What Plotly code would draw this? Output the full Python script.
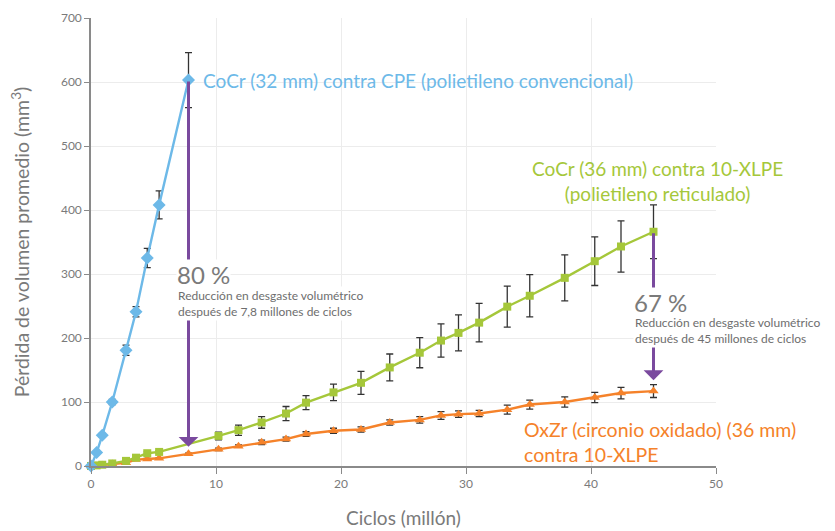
import plotly.graph_objects as go

# ---- data ----
cpe_x = [0, 0.45, 0.9, 1.7, 2.8, 3.6, 4.5, 5.45, 7.8]
cpe_y = [0, 21, 48, 100, 181, 241, 325, 408, 603]
cpe_err = [0, 2, 3, 4, 8, 8, 15, 22, 43]

xlpe_x = [0, 0.45, 0.9, 1.7, 2.8, 3.6, 4.5, 5.45, 10.2, 11.8, 13.65, 15.6, 17.2,
          19.4, 21.6, 23.9, 26.3, 28.0, 29.4, 31.05, 33.3, 35.1, 37.9, 40.3, 42.4, 45.0]
xlpe_y = [0, 1, 2, 4, 8, 13, 20, 22, 47, 56, 68, 82, 99,
          115, 130, 154, 177, 196, 208, 224, 249, 266, 294, 320, 343, 366]
xlpe_err = [0, 0, 1, 1, 1, 2, 2, 2, 6, 8, 9, 11, 11,
            13, 18, 21, 23.5, 26, 28, 30, 32, 33, 36, 38, 40, 42]

oxzr_x = [0, 0.9, 1.7, 2.8, 3.6, 4.5, 5.45, 7.8, 10.2, 11.8, 13.65, 15.6, 17.2,
          19.4, 21.6, 23.9, 26.3, 28.0, 29.4, 31.05, 33.3, 35.1, 37.9, 40.3, 42.4, 45.0]
oxzr_y = [0, 1, 3, 5, 10, 11, 12, 19, 26, 31, 37, 42, 50,
          55, 57, 68, 72, 79, 81, 82, 88, 96, 100, 107, 114, 117]
oxzr_err = [0, 0, 0, 1, 1, 1, 1, 1, 2, 2, 3.5, 3, 3.5,
            4, 4, 4, 5, 6, 5, 5, 7, 7, 8, 8, 9, 10]

# reduction arrows: x position, start value, tip value
arrow_x = [7.8, 45.0]
arrow_from = [603, 366]
arrow_to = [30, 134]

x_ticks = [0, 10, 20, 30, 40, 50]
y_ticks = [0, 100, 200, 300, 400, 500, 600, 700]

BLUE = "#6DB9E8"
GREEN = "#A5C73A"
ORANGE = "#F5822A"
PURPLE = "#7A4A9E"
GRAY = "#7A7A7A"
FONT = "Lato"

fig = go.Figure()

def add_series(x, y, err, color, symbol, size):
    fig.add_trace(go.Scatter(
        x=x, y=y, mode="lines+markers",
        line=dict(color=color, width=2.4),
        marker=dict(symbol=symbol, size=size, color=color),
        error_y=dict(type="data", array=err, visible=True,
                     color="#333333", thickness=1.3, width=3.5),
        cliponaxis=False, showlegend=False, hoverinfo="skip"))

add_series(oxzr_x, oxzr_y, oxzr_err, ORANGE, "triangle-up", 9)
add_series(xlpe_x, xlpe_y, xlpe_err, GREEN, "square", 8)
add_series(cpe_x, cpe_y, cpe_err, BLUE, "diamond", 10)

anns = []
# arrows
for ax_, y0, y1 in zip(arrow_x, arrow_from, arrow_to):
    anns.append(dict(x=ax_, y=y1, ax=ax_, ay=y0, axref="x", ayref="y",
                     xref="x", yref="y", text="", showarrow=True,
                     arrowhead=1, arrowwidth=3, arrowsize=1.1,
                     arrowcolor=PURPLE, standoff=0, startstandoff=0))

# series labels
anns.append(dict(x=cpe_x[-1], y=cpe_y[-1], xref="x", yref="y", xanchor="left",
                 yanchor="middle", xshift=12, showarrow=False,
                 text="CoCr (32 mm) contra CPE (polietileno convencional)",
                 font=dict(family=FONT, size=19, color=BLUE)))
anns.append(dict(x=45.3, y=445, xref="x", yref="y", xanchor="center",
                 yanchor="middle", showarrow=False, align="center",
                 text="CoCr (36 mm) contra 10-XLPE<br>(polietileno reticulado)",
                 font=dict(family=FONT, size=19, color=GREEN)))
anns.append(dict(x=34.5, y=37, xref="x", yref="y", xanchor="left",
                 yanchor="middle", showarrow=False, align="left",
                 text="OxZr (circonio oxidado) (36 mm)<br>contra 10-XLPE",
                 font=dict(family=FONT, size=19.5, color=ORANGE)))

# reduction labels (small text first, big percentage drawn on top)
reductions = [
    (6.8, 299, 254, "80 %", "Reducción en desgaste volumétrico<br>después de 7,8 millones de ciclos"),
    (43.36, 255, 211, "67 %", "Reducción en desgaste volumétrico<br>después de 45 millones de ciclos"),
]
for xl, ybig, ysmall, pct, txt in reductions:
    anns.append(dict(x=xl, y=ysmall, xref="x", yref="y", xanchor="left",
                     yanchor="middle", showarrow=False, text=txt, align="left",
                     bgcolor="white", borderpad=1,
                     font=dict(family=FONT, size=12, color="#6E6E6E")))
for xl, ybig, ysmall, pct, txt in reductions:
    anns.append(dict(x=xl, y=ybig, xref="x", yref="y", xanchor="left",
                     yanchor="middle", showarrow=False, text=pct,
                     bgcolor="white", borderpad=0,
                     font=dict(family=FONT, size=24, color=GRAY)))

fig.update_layout(
    width=835, height=531,
    margin=dict(l=91, r=119, t=18, b=65, autoexpand=False),
    paper_bgcolor="white", plot_bgcolor="white",
    font=dict(family=FONT, color=GRAY),
    annotations=anns,
    xaxis=dict(range=[0, 50], tickvals=x_ticks, ticktext=[str(v) for v in x_ticks],
               showgrid=True, gridcolor="#ECECEC", gridwidth=1,
               showline=True, linecolor="#8A8A8A", linewidth=1.5,
               ticks="outside", ticklen=6, tickcolor="#8A8A8A",
               zeroline=False, automargin=False,
               tickfont=dict(family=FONT, size=12, color=GRAY),
               title=dict(text="Ciclos (millón)", standoff=22,
                          font=dict(family=FONT, size=19, color=GRAY))),
    yaxis=dict(range=[0, 700], tickvals=y_ticks, ticktext=[str(v) for v in y_ticks],
               showgrid=True, gridcolor="#ECECEC", gridwidth=1,
               showline=True, linecolor="#8A8A8A", linewidth=1.5,
               ticks="outside", ticklen=5, tickcolor="#8A8A8A",
               zeroline=False, automargin=False,
               tickfont=dict(family=FONT, size=12, color=GRAY),
               title=dict(text="Pérdida de volumen promedio (mm<sup>3</sup>)", standoff=26,
                          font=dict(family=FONT, size=19.5, color=GRAY))),
)

fig.write_html("out.html",
               config={"displayModeBar": False},
               post_script="document.body.style.margin='0';document.body.style.padding='0';")
